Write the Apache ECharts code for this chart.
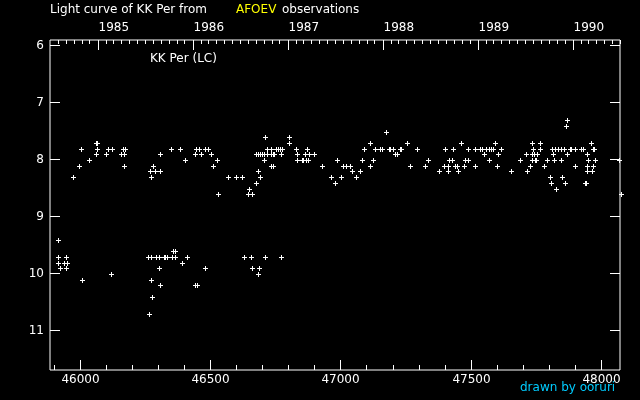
<!DOCTYPE html>
<html>
<head>
<meta charset="utf-8">
<title>Light curve of KK Per</title>
<script src="https://cdn.jsdelivr.net/npm/echarts@6.0.0/dist/echarts.min.js"></script>
<style>
  html, body { margin: 0; padding: 0; background: #000; }
  #chart { width: 640px; height: 400px; }
</style>
</head>
<body>
<div id="chart"></div>
<script>
// JD - 2400000 of each AFOEV estimate, and the visual magnitude
const obsJD = [
  45915, 45915, 45915, 45923, 45937, 45946, 45946, 45950, 45973, 45996,
  46004, 46008, 46035, 46062, 46064, 46063, 46061, 46100, 46108, 46119,
  46122, 46124, 46158, 46165, 46168, 46169, 46173, 46261, 46265, 46269,
  46273, 46273, 46273, 46277, 46281, 46288, 46292, 46304, 46304, 46307,
  46307, 46307, 46322, 46324, 46334, 46350, 46354, 46357, 46365, 46365,
  46384, 46392, 46404, 46411, 46442, 46442, 46446, 46450, 46457, 46465,
  46480, 46480, 46492, 46503, 46511, 46527, 46530, 46569, 46600, 46623,
  46630, 46646, 46650, 46657, 46661, 46661, 46676, 46676, 46684, 46684,
  46684, 46688, 46692, 46692, 46699, 46707, 46707, 46711, 46711, 46716,
  46719, 46734, 46734, 46734, 46741, 46743, 46742, 46746, 46753, 46761,
  46769, 46772, 46770, 46772, 46776, 46803, 46803, 46830, 46834, 46834,
  46852, 46854, 46857, 46865, 46869, 46872, 46876, 46880, 46899, 46930,
  46965, 46980, 46988, 47003, 47011, 47022, 47038, 47045, 47061, 47076,
  47084, 47091, 47115, 47115, 47126, 47134, 47153, 47161, 47176, 47186,
  47189, 47203, 47211, 47218, 47229, 47231, 47257, 47268, 47295, 47326,
  47337, 47380, 47399, 47403, 47414, 47414, 47418, 47430, 47433, 47441,
  47449, 47453, 47464, 47476, 47480, 47491, 47491, 47518, 47518, 47537,
  47545, 47553, 47560, 47572, 47572, 47580, 47587, 47595, 47603, 47606,
  47618, 47656, 47691, 47714, 47718, 47729, 47737, 47737, 47737, 47741,
  47745, 47747, 47750, 47756, 47768, 47768, 47783, 47795, 47806, 47810,
  47814, 47818, 47822, 47825, 47829, 47837, 47848, 47848, 47852, 47860,
  47864, 47868, 47872, 47872, 47882, 47884, 47902, 47902, 47925, 47933,
  47940, 47942, 47948, 47948, 47948, 47952, 47964, 47968, 47971, 47970,
  47973, 47979, 48069, 48078
]
const obsMag = [
  9.4, 9.7, 9.8, 9.9, 9.8, 9.7, 9.9, 9.8, 8.3, 8.1,
  7.8, 10.1, 8.0, 7.7, 7.7, 7.8, 7.9, 7.9, 7.8, 10.0,
  7.8, 7.8, 7.9, 7.8, 7.9, 8.1, 7.8, 9.7, 10.7, 8.2,
  8.3, 9.7, 10.1, 10.4, 8.1, 8.2, 9.7, 9.7, 9.9, 7.9,
  8.2, 10.2, 9.7, 9.7, 9.7, 7.8, 9.7, 9.6, 9.6, 9.7,
  7.8, 9.8, 8.0, 9.7, 7.9, 10.2, 7.8, 10.2, 7.8, 7.9,
  7.8, 9.9, 7.8, 7.9, 8.1, 8.0, 8.6, 8.3, 8.3, 8.3,
  9.7, 8.6, 8.5, 9.7, 8.6, 9.9, 8.4, 7.9, 7.9, 8.2,
  10.0, 9.9, 7.9, 8.3, 7.9, 7.9, 8.0, 7.6, 9.7, 7.9,
  7.8, 7.8, 7.9, 8.1, 7.9, 7.9, 8.1, 7.9, 7.8, 7.8,
  7.8, 7.9, 9.7, 9.7, 7.8, 7.6, 7.7, 7.8, 7.9, 8.0,
  8.0, 8.0, 8.0, 7.9, 8.0, 7.8, 8.0, 7.9, 7.9, 8.1,
  8.3, 8.4, 8.0, 8.3, 8.1, 8.1, 8.1, 8.2, 8.3, 8.2,
  8.0, 7.8, 7.7, 8.1, 8.0, 7.8, 7.8, 7.8, 7.5, 7.8,
  7.8, 7.8, 7.9, 7.9, 7.8, 7.8, 7.7, 8.1, 7.8, 8.1,
  8.0, 8.2, 8.1, 7.8, 8.1, 8.2, 8.0, 8.0, 7.8, 8.1,
  8.1, 8.2, 7.7, 8.1, 8.0, 8.0, 7.8, 7.8, 8.1, 7.8,
  7.8, 7.9, 7.8, 7.8, 8.0, 7.8, 7.8, 7.7, 8.1, 7.9,
  7.8, 8.2, 8.0, 7.9, 8.2, 8.1, 7.7, 7.9, 8.0, 7.8,
  7.9, 8.0, 8.0, 7.9, 7.7, 7.8, 8.1, 8.0, 8.3, 8.4,
  7.8, 7.9, 8.0, 7.8, 8.5, 7.8, 7.8, 8.0, 8.3, 7.8,
  8.4, 7.4, 7.3, 7.9, 7.8, 7.8, 7.8, 8.1, 7.8, 7.8,
  8.4, 8.4, 7.9, 8.1, 8.2, 8.0, 7.7, 8.2, 8.1, 7.8,
  7.8, 8.0, 8.0, 8.6
]

// axis labels
const jdTicks = [46000, 46500, 47000, 47500, 48000]
const magTicks = [6, 7, 8, 9, 10, 11]
const years = [1985, 1986, 1987, 1988, 1989, 1990]

const X_MIN = 45884
const X_MAX = 48074
const Y_MIN = 5.912
const Y_MAX = 11.702
const FONT = '12px "DejaVu Sans"'

// JD-2400000 at 0h UT of a calendar date
function toJD(y, m) {
  return Date.UTC(y, m, 1) / 86400000 + 40587.5
}

// tick lists: [value, major?]
const bottomItems = []
for (let v = Math.ceil(X_MIN / 100) * 100; v <= X_MAX; v += 100) {
  bottomItems.push([v, jdTicks.indexOf(v) >= 0 ? 1 : 0])
}
const topItems = []
for (let y = 1984; y <= 1990; y++) {
  for (let m = 0; m < 12; m++) {
    const jd = toJD(y, m)
    if (jd > X_MIN && jd < X_MAX) topItems.push([jd, m === 0 && years.indexOf(y) >= 0 ? 1 : 0, y])
  }
}
const sideItems = magTicks.map(function (v) { return [v] })

function px(v) { return Math.round(v) + 0.5 }

function line(x1, y1, x2, y2) {
  return { type: 'line', shape: { x1: x1, y1: y1, x2: x2, y2: y2 }, style: { stroke: '#fff', lineWidth: 1 } }
}

function label(text, x, y, align, vAlign) {
  return { type: 'text', x: x, y: y, style: { text: text, fill: '#fff', font: FONT, align: align, verticalAlign: vAlign } }
}

const chart = echarts.init(document.getElementById('chart'), null, { renderer: 'canvas' })

chart.setOption({
  backgroundColor: '#000',
  animation: false,
  title: [
    { text: 'Light curve of KK Per from', left: 50, top: 4, padding: 0, textStyle: { color: '#fff', fontFamily: 'DejaVu Sans', fontSize: 12, fontWeight: 'normal' } },
    { text: 'AFOEV', left: 236, top: 4, padding: 0, textStyle: { color: '#ffff00', fontFamily: 'DejaVu Sans', fontSize: 12, fontWeight: 'normal' } },
    { text: 'observations', left: 282, top: 4, padding: 0, textStyle: { color: '#fff', fontFamily: 'DejaVu Sans', fontSize: 12, fontWeight: 'normal' } },
    { text: 'KK Per (LC)', left: 150, top: 53, padding: 0, textStyle: { color: '#fff', fontFamily: 'DejaVu Sans', fontSize: 12, fontWeight: 'normal' } },
    { text: 'drawn by ooruri', left: 520, top: 382, padding: 0, textStyle: { color: '#00ccff', fontFamily: 'DejaVu Sans', fontSize: 12, fontWeight: 'normal' } }
  ],
  grid: {
    left: 50,
    top: 40,
    right: 20,
    bottom: 30,
    show: true,
    borderColor: '#fff',
    borderWidth: 1,
    backgroundColor: 'transparent'
  },
  xAxis: { type: 'value', min: X_MIN, max: X_MAX, show: false },
  yAxis: { type: 'value', min: Y_MIN, max: Y_MAX, inverse: true, show: false },
  series: [
    {
      // JD axis along the bottom
      type: 'custom',
      silent: true,
      clip: false,
      data: bottomItems,
      renderItem: function (params, api) {
        const p = api.coord([api.value(0), Y_MAX])
        const x = px(p[0])
        const y = Math.round(p[1])
        const major = api.value(1) === 1
        const children = [line(x, y, x, y - (major ? 10 : 5))]
        if (major) children.push(label(String(api.value(0)), x, y + 4, 'center', 'top'))
        return { type: 'group', children: children }
      }
    },
    {
      // calendar years along the top
      type: 'custom',
      silent: true,
      clip: false,
      data: topItems,
      renderItem: function (params, api) {
        const p = api.coord([api.value(0), Y_MIN])
        const x = px(p[0])
        const y = Math.round(p[1])
        const major = api.value(1) === 1
        const children = [line(x, y, x, y + (major ? 10 : 4))]
        if (major) children.push(label(String(api.value(2)), x, 28, 'left', 'middle'))
        return { type: 'group', children: children }
      }
    },
    {
      // magnitude ticks, left and right
      type: 'custom',
      silent: true,
      clip: false,
      data: sideItems,
      renderItem: function (params, api) {
        const l = api.coord([X_MIN, api.value(0)])
        const r = api.coord([X_MAX, api.value(0)])
        const y = px(l[1])
        return {
          type: 'group',
          children: [
            line(Math.round(l[0]), y, Math.round(l[0]) + 10, y),
            line(Math.round(r[0]), y, Math.round(r[0]) - 10, y),
            label(String(api.value(0)), Math.round(l[0]) - 6, y, 'right', 'middle')
          ]
        }
      }
    },
    {
      // observations, drawn as crisp 5px plus signs
      name: 'KK Per',
      type: 'custom',
      clip: false,
      data: obsJD.map(function (jd, i) { return [jd, obsMag[i]] }),
      renderItem: function (params, api) {
        const p = api.coord([api.value(0), api.value(1)])
        const cx = Math.round(p[0])
        const cy = Math.round(p[1]) + 1
        return {
          type: 'group',
          children: [
            { type: 'rect', shape: { x: cx - 2, y: cy, width: 5, height: 1 }, style: { fill: '#fff' } },
            { type: 'rect', shape: { x: cx, y: cy - 2, width: 1, height: 5 }, style: { fill: '#fff' } }
          ]
        }
      }
    }
  ]
})
</script>
</body>
</html>
